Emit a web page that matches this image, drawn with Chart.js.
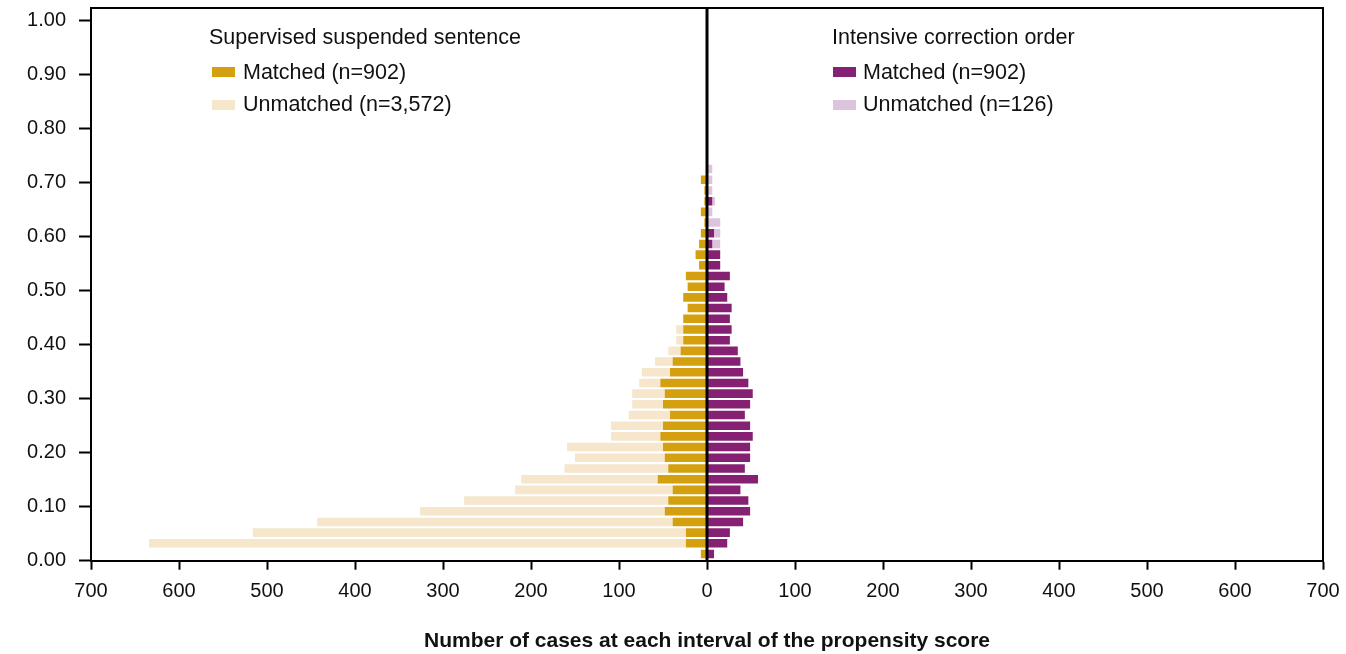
<!DOCTYPE html>
<html>
<head>
<meta charset="utf-8">
<script src="https://cdn.jsdelivr.net/npm/chart.js@4.4.1/dist/chart.umd.min.js"></script>
<style>
  body { margin: 0; background: #fff; }
  .contenitore { position: relative; width: 1346px; height: 654px; }
  .legenda { position: absolute; white-space: nowrap; font-family: 'Liberation Sans', Arial, sans-serif; font-size: 21.5px; line-height: 22px; color: #111; }
  .quadrato { position: absolute; width: 23px; height: 10px; }
</style>
</head>
<body>
<div class="contenitore">
  <canvas id="grafico"></canvas>

  <div class="legenda" style="left:209px; top:26px;">Supervised suspended sentence</div>
  <div class="quadrato" style="left:212px; top:67px; background:#D4A00F;"></div>
  <div class="legenda" style="left:243px; top:61px;">Matched (n=902)</div>
  <div class="quadrato" style="left:212px; top:100px; background:#F5E6CC;"></div>
  <div class="legenda" style="left:243px; top:93px;">Unmatched (n=3,572)</div>

  <div class="legenda" style="left:832px; top:26px;">Intensive correction order</div>
  <div class="quadrato" style="left:833px; top:67px; background:#862072;"></div>
  <div class="legenda" style="left:863px; top:61px;">Matched (n=902)</div>
  <div class="quadrato" style="left:833px; top:100px; background:#DCC4DC;"></div>
  <div class="legenda" style="left:863px; top:93px;">Unmatched (n=126)</div>
</div>

<script>
// punto medio di ogni intervallo del propensity score
const punteggi = [0.0124, 0.0322, 0.0520, 0.0718, 0.0916, 0.1114, 0.1312, 0.1510, 0.1708, 0.1906,
                  0.2104, 0.2302, 0.2500, 0.2698, 0.2896, 0.3094, 0.3292, 0.3490, 0.3688, 0.3886,
                  0.4084, 0.4282, 0.4480, 0.4678, 0.4876, 0.5074, 0.5272, 0.5470, 0.5668, 0.5866,
                  0.6064, 0.6262, 0.6460, 0.6658, 0.6856, 0.7054, 0.7252];

// Supervised suspended sentence (lato sinistro)
const sospesaAbbinati = [7, 24, 24, 39, 48, 44, 39, 56, 44, 48,
                         50, 53, 50, 42, 50, 48, 53, 42, 39, 30,
                         27, 27, 27, 22, 27, 22, 24, 9, 13, 9,
                         7, 3, 7, 3, 3, 7, 0];
const sospesaNonAbbinati = [0, 610, 492, 404, 278, 232, 179, 155, 118, 102,
                            109, 56, 59, 47, 35, 37, 24, 32, 20, 14,
                            8, 8, 0, 0, 0, 0, 0, 0, 0, 0,
                            0, 0, 0, 0, 0, 0, 0];

// Intensive correction order (lato destro)
const correzioneAbbinati = [8, 23, 26, 41, 49, 47, 38, 58, 43, 49,
                            49, 52, 49, 43, 49, 52, 47, 41, 38, 35,
                            26, 28, 26, 28, 23, 20, 26, 15, 15, 6,
                            8, 0, 0, 6, 0, 0, 0];
const correzioneNonAbbinati = [0, 0, 0, 0, 0, 0, 0, 0, 0, 0,
                               0, 0, 0, 0, 0, 0, 0, 0, 0, 0,
                               0, 0, 0, 0, 0, 0, 0, 0, 0, 9,
                               7, 15, 6, 3, 6, 6, 6];

const tickY = [0, 0.1, 0.2, 0.3, 0.4, 0.5, 0.6, 0.7, 0.8, 0.9, 1.0];
const tickX = [-700, -600, -500, -400, -300, -200, -100, 0, 100, 200, 300, 400, 500, 600, 700];

function punti(valori, segno) {
    return valori.map((v, i) => ({ x: segno * v, y: punteggi[i] }));
}

const cornice = {
    id: 'cornice',
    afterDatasetsDraw(chart) {
        const { ctx, chartArea, scales } = chart;
        const x0 = scales.x.getPixelForValue(0);
        ctx.save();
        ctx.strokeStyle = '#000';
        ctx.lineWidth = 3;
        ctx.beginPath();
        ctx.moveTo(x0, chartArea.top);
        ctx.lineTo(x0, chartArea.bottom);
        ctx.stroke();
        ctx.lineWidth = 2;
        ctx.beginPath();
        ctx.moveTo(chartArea.left, chartArea.top);
        ctx.lineTo(chartArea.right, chartArea.top);
        ctx.lineTo(chartArea.right, chartArea.bottom);
        ctx.stroke();
        ctx.restore();
    }
};

Chart.defaults.font.family = "'Liberation Sans', Arial, sans-serif";
Chart.defaults.color = '#111';

const datiGrafico = {
    datasets: [
        { label: 'SSS matched', data: punti(sospesaAbbinati, -1), backgroundColor: '#D4A00F', stack: 'uno' },
        { label: 'SSS unmatched', data: punti(sospesaNonAbbinati, -1), backgroundColor: '#F5E6CC', stack: 'uno' },
        { label: 'ICO matched', data: punti(correzioneAbbinati, 1), backgroundColor: '#862072', stack: 'uno' },
        { label: 'ICO unmatched', data: punti(correzioneNonAbbinati, 1), backgroundColor: '#DCC4DC', stack: 'uno' }
    ]
};

const config = {
    type: 'bar',
    data: datiGrafico,
    options: {
        indexAxis: 'y',
        responsive: true,
        maintainAspectRatio: false,
        animation: false,
        barPercentage: 0.8,
        categoryPercentage: 1,
        layout: { padding: { left: 0, right: 23, top: 8, bottom: 0 } },
        plugins: {
            legend: { display: false },
            tooltip: { enabled: false }
        },
        scales: {
            x: {
                type: 'linear',
                stacked: true,
                min: -700,
                max: 700,
                offset: false,
                afterBuildTicks: s => { s.ticks = tickX.map(v => ({ value: v })); },
                afterFit: s => { s.height = 93.3; s.paddingLeft = 0; s.paddingRight = 0; },
                grid: { offset: false, drawOnChartArea: false, tickLength: 9, tickWidth: 2, tickColor: '#000' },
                border: { color: '#000', width: 2 },
                ticks: { font: { size: 20 }, padding: 10, callback: v => Math.abs(v) },
                title: {
                    display: true,
                    text: 'Number of cases at each interval of the propensity score',
                    font: { size: 21, weight: 'bold' },
                    color: '#111',
                    padding: { top: 0, bottom: 0 }
                }
            },
            y: {
                type: 'linear',
                stacked: true,
                min: 0,
                max: 1.0235,
                offset: false,
                afterBuildTicks: s => { s.ticks = tickY.map(v => ({ value: v })); },
                afterFit: s => { s.width = 91; s.paddingTop = 0; s.paddingBottom = 0; },
                grid: { offset: false, drawOnChartArea: false, tickLength: 12, tickWidth: 2, tickColor: '#000' },
                border: { color: '#000', width: 2 },
                ticks: { font: { size: 20 }, padding: 13, callback: v => Number(v).toFixed(2) }
            }
        }
    },
    plugins: [cornice]
};

const canvasElement = document.getElementById('grafico');
if (canvasElement) {
    new Chart(canvasElement.getContext('2d'), config);
}
</script>
</body>
</html>
